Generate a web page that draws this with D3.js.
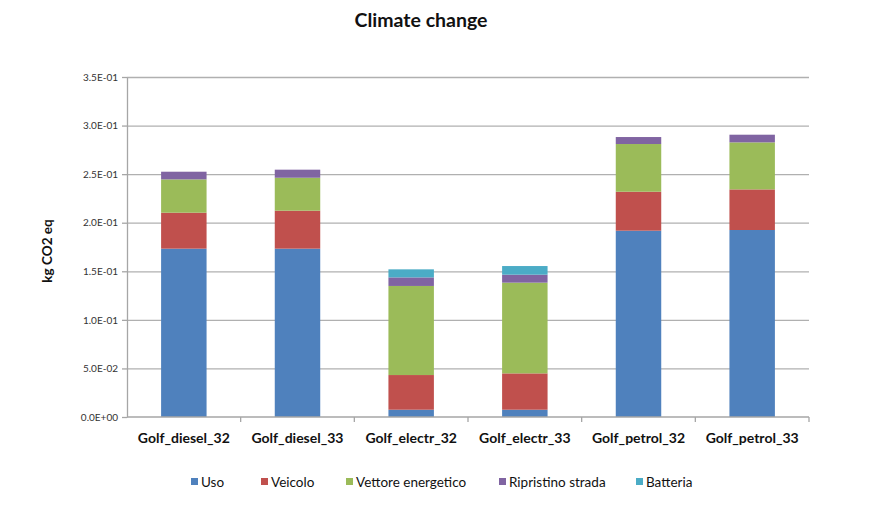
<!DOCTYPE html>
<html>
<head>
<meta charset="utf-8">
<script src="https://cdn.jsdelivr.net/npm/d3@7"></script>
<style>
  body { margin: 0; background: #fff; font-family: Lato, "Liberation Sans", sans-serif; }
  .grid line { stroke: #b0b0b0; stroke-width: 1.3; }
  .grid .domain { display: none; }
  .axis .domain, .axis line { stroke: #a6a6a6; stroke-width: 1.3; }
</style>
</head>
<body>
<div id="chart"></div>
<script>
const categories = ["Golf_diesel_32", "Golf_diesel_33", "Golf_electr_32", "Golf_electr_33", "Golf_petrol_32", "Golf_petrol_33"];
const seriesNames = ["Uso", "Veicolo", "Vettore energetico", "Ripristino strada", "Batteria"];
const uso = [0.1733, 0.1733, 0.0075, 0.0075, 0.1918, 0.1925];
const veicolo = [0.0370, 0.0391, 0.0357, 0.0374, 0.0401, 0.0418];
const vettore = [0.0343, 0.0339, 0.0917, 0.0934, 0.0491, 0.0484];
const ripristino = [0.0079, 0.0083, 0.0088, 0.0082, 0.0072, 0.0079];
const batteria = [0, 0, 0.0083, 0.0089, 0, 0];
const yTicks = [0, 0.05, 0.1, 0.15, 0.2, 0.25, 0.3, 0.35];
const tickLabels = ["0.0E+00", "5.0E-02", "1.0E-01", "1.5E-01", "2.0E-01", "2.5E-01", "3.0E-01", "3.5E-01"];
const colors = ["#4f81bd", "#c0504d", "#9bbb59", "#8064a2", "#4bacc6"];

const W = 889, H = 505;
const margin = { top: 77, right: 80, bottom: 88, left: 127 };
const width = W - margin.left - margin.right;
const height = H - margin.top - margin.bottom;

const svg = d3.select("#chart").append("svg")
  .attr("width", W)
  .attr("height", H);

const g = svg.append("g")
  .attr("transform", `translate(${margin.left},${margin.top})`);

// table for the stack
const allSeries = [uso, veicolo, vettore, ripristino, batteria];
const table = categories.map((c, i) => {
  const row = { cat: c };
  seriesNames.forEach((s, j) => { row[s] = allSeries[j][i]; });
  return row;
});
const stacked = d3.stack().keys(seriesNames)(table);

const x = d3.scaleBand().domain(categories).range([0, width]).paddingInner(0.6).paddingOuter(0.3);
const xb = d3.scaleBand().domain(categories).range([0, width]);
const y = d3.scaleLinear().domain([0, 0.35]).range([height, 0]);

// grid
g.append("g").attr("class", "grid")
  .call(d3.axisLeft(y).tickValues(yTicks.slice(1)).tickSize(-width).tickFormat(""));

// bars
g.selectAll(".layer").data(stacked).join("g")
  .attr("class", "layer")
  .attr("fill", (d, i) => colors[i])
  .selectAll("rect").data(d => d).join("rect")
  .attr("x", d => x(d.data.cat))
  .attr("width", x.bandwidth())
  .attr("y", d => y(d[1]))
  .attr("height", d => y(d[0]) - y(d[1]));

// y axis
const yAxis = g.append("g").attr("class", "axis")
  .call(d3.axisLeft(y).tickValues(yTicks).tickSize(5).tickSizeOuter(0)
    .tickFormat((d, i) => tickLabels[i]));
yAxis.selectAll("text")
  .attr("x", -9)
  .style("font-family", "Lato, 'Liberation Sans', sans-serif")
  .style("font-size", "10px")
  .attr("fill", "#333");

// x axis with ticks at category boundaries
const xAxis = g.append("g").attr("class", "axis")
  .attr("transform", `translate(0,${height})`);
xAxis.append("line").attr("x1", 0).attr("x2", width).attr("y1", 0).attr("y2", 0)
  .attr("stroke", "#a6a6a6").attr("stroke-width", 1.3);
xAxis.selectAll(".btick").data(categories).join("line")
  .attr("class", "btick")
  .attr("x1", d => xb(d) + xb.bandwidth()).attr("x2", d => xb(d) + xb.bandwidth())
  .attr("y1", 0).attr("y2", 5);
xAxis.selectAll(".xl").data(categories).join("text")
  .attr("class", "xl")
  .attr("x", d => xb(d) + xb.bandwidth() / 2)
  .attr("y", 26)
  .attr("text-anchor", "middle")
  .style("font-size", "14px")
  .style("font-weight", "bold")
  .attr("fill", "#111")
  .text(d => d);

// title
svg.append("text")
  .attr("x", 421).attr("y", 27)
  .attr("text-anchor", "middle")
  .style("font-size", "19.5px")
  .style("font-weight", "bold")
  .attr("fill", "#111")
  .text("Climate change");

// y label
svg.append("text")
  .attr("transform", "translate(52,251) rotate(-90)")
  .attr("text-anchor", "middle")
  .style("font-size", "13.5px")
  .style("font-weight", "bold")
  .attr("fill", "#111")
  .text("kg CO2 eq");

// legend
const legendX = [191, 261, 346, 499, 636];
const legend = svg.selectAll(".leg").data(seriesNames).join("g")
  .attr("class", "leg")
  .attr("transform", (d, i) => `translate(${legendX[i]},482)`);
legend.append("rect")
  .attr("x", 0).attr("y", -4).attr("width", 7).attr("height", 7)
  .attr("fill", (d, i) => colors[i]);
legend.append("text")
  .attr("x", 10).attr("y", 5)
  .style("font-size", "13.5px")
  .attr("fill", "#111")
  .text(d => d);
</script>
</body>
</html>
